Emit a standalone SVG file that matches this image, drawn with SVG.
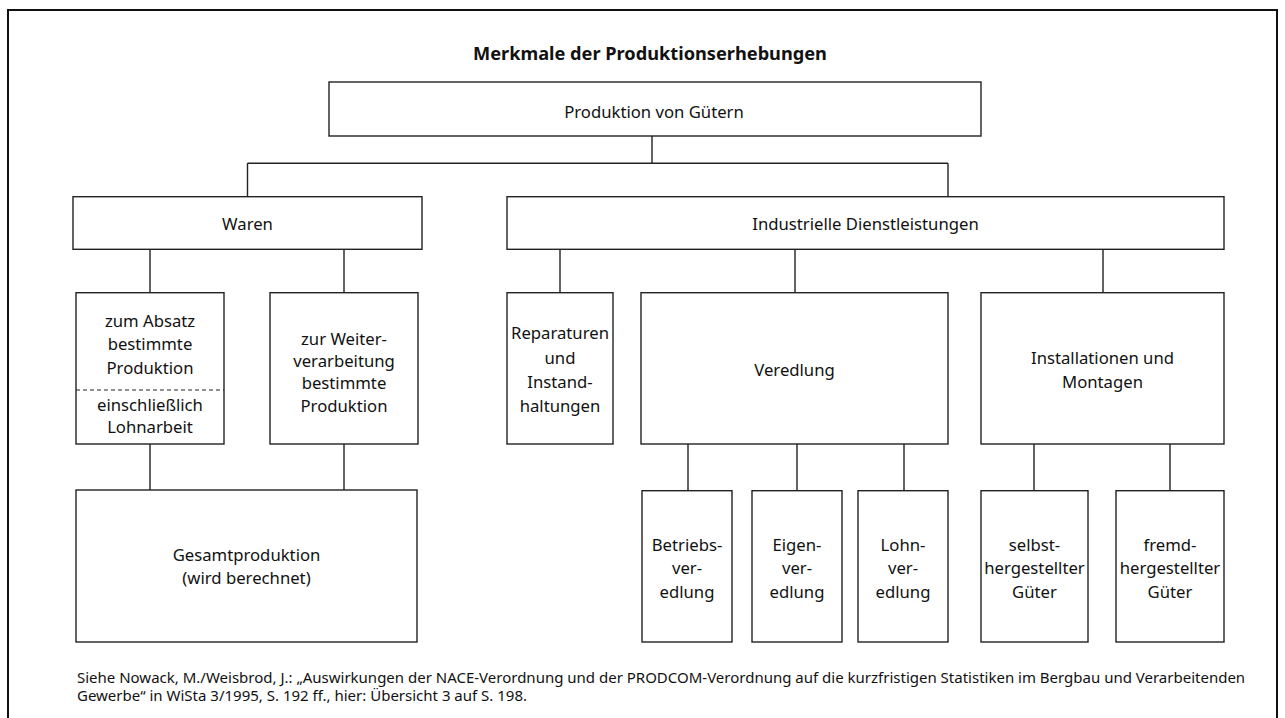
<svg xmlns="http://www.w3.org/2000/svg" width="1285" height="718" viewBox="0 0 1285 718">
<style>
.box{fill:#fff;stroke:#222;stroke-width:1.4}
.ln{stroke:#222;stroke-width:1.4;fill:none}
.t{font-family:"Noto Sans","Liberation Sans",sans-serif;font-size:16.7px;fill:#111;text-anchor:middle}
.fn{font-family:"Noto Sans","Liberation Sans",sans-serif;font-size:15px;fill:#111}
</style>
<rect x="0" y="0" width="1285" height="718" fill="#fff"/>
<rect x="8" y="10" width="1269" height="730" fill="none" stroke="#111" stroke-width="2"/>
<text x="650" y="60" class="t" font-weight="bold" style="font-size:18.2px">Merkmale der Produktionserhebungen</text>

<g id="connectors">
<path class="ln" d="M652 136V163.3M247.5 163.3H948M247.5 163.3V196.7M948 163.3V196.7"/>
<path class="ln" d="M150 249.3V292.7M344 249.3V292.7M150 444V490M344 444V490"/>
<path class="ln" d="M560 249.3V292.7M795 249.3V292.7M1103 249.3V292.7"/>
<path class="ln" d="M688 444V490.7M797 444V490.7M904 444V490.7M1034 444V490.7M1170 444V490.7"/>
</g>

<g id="n-produktion"><rect class="box" x="329" y="82" width="652" height="54"/><text class="t" x="654" y="117.5">Produktion von Gütern</text></g>
<g id="n-waren"><rect class="box" x="73" y="196.7" width="349" height="52.6"/><text class="t" x="247.5" y="230">Waren</text></g>
<g id="n-industrielle"><rect class="box" x="507" y="196.7" width="717" height="52.6"/><text class="t" x="865.5" y="230">Industrielle Dienstleistungen</text></g>

<g id="n-absatz"><rect class="box" x="76" y="292.7" width="148" height="151.3"/>
<line x1="76" y1="390" x2="224" y2="390" stroke="#222" stroke-width="1.2" stroke-dasharray="4 3"/>
<text class="t"><tspan x="150" y="326.5">zum Absatz</tspan><tspan x="150" y="350">bestimmte</tspan><tspan x="150" y="373.5">Produktion</tspan><tspan x="150" y="411">einschließlich</tspan><tspan x="150" y="433">Lohnarbeit</tspan></text></g>
<g id="n-weiter"><rect class="box" x="270" y="292.7" width="148" height="151.3"/>
<text class="t"><tspan x="344" y="344.5">zur Weiter-</tspan><tspan x="344" y="366.5">verarbeitung</tspan><tspan x="344" y="388.5">bestimmte</tspan><tspan x="344" y="411.5">Produktion</tspan></text></g>
<g id="n-gesamt"><rect class="box" x="76" y="490" width="341" height="152"/>
<text class="t"><tspan x="246.5" y="561">Gesamtproduktion</tspan><tspan x="246.5" y="584">(wird berechnet)</tspan></text></g>

<g id="n-reparaturen"><rect class="box" x="507" y="292.7" width="106" height="151.3"/>
<text class="t"><tspan x="560" y="339">Reparaturen</tspan><tspan x="560" y="363.5">und</tspan><tspan x="560" y="387.5">Instand-</tspan><tspan x="560" y="412">haltungen</tspan></text></g>
<g id="n-veredlung"><rect class="box" x="641" y="292.7" width="307" height="151.3"/><text class="t" x="794.5" y="375.5">Veredlung</text></g>
<g id="n-installationen"><rect class="box" x="981" y="292.7" width="243" height="151.3"/>
<text class="t"><tspan x="1102.5" y="364">Installationen und</tspan><tspan x="1102.5" y="387.5">Montagen</tspan></text></g>

<g id="n-betriebs"><rect class="box" x="642" y="490.7" width="90" height="151.3"/>
<text class="t"><tspan x="687" y="551">Betriebs-</tspan><tspan x="687" y="574">ver-</tspan><tspan x="687" y="597.5">edlung</tspan></text></g>
<g id="n-eigen"><rect class="box" x="752" y="490.7" width="90" height="151.3"/>
<text class="t"><tspan x="797" y="551">Eigen-</tspan><tspan x="797" y="574">ver-</tspan><tspan x="797" y="597.5">edlung</tspan></text></g>
<g id="n-lohn"><rect class="box" x="858" y="490.7" width="90" height="151.3"/>
<text class="t"><tspan x="903" y="551">Lohn-</tspan><tspan x="903" y="574">ver-</tspan><tspan x="903" y="597.5">edlung</tspan></text></g>
<g id="n-selbst"><rect class="box" x="981" y="490.7" width="107" height="151.3"/>
<text class="t"><tspan x="1034.5" y="551">selbst-</tspan><tspan x="1034.5" y="574">hergestellter</tspan><tspan x="1034.5" y="597.5">Güter</tspan></text></g>
<g id="n-fremd"><rect class="box" x="1116" y="490.7" width="108" height="151.3"/>
<text class="t"><tspan x="1170" y="551">fremd-</tspan><tspan x="1170" y="574">hergestellter</tspan><tspan x="1170" y="597.5">Güter</tspan></text></g>

<text class="fn"><tspan x="77" y="683">Siehe Nowack, M./Weisbrod, J.: „Auswirkungen der NACE-Verordnung und der PRODCOM-Verordnung auf die kurzfristigen Statistiken im Bergbau und Verarbeitenden</tspan><tspan x="77" y="700.5">Gewerbe“ in WiSta 3/1995, S. 192 ff., hier: Übersicht 3 auf S. 198.</tspan></text>
</svg>
